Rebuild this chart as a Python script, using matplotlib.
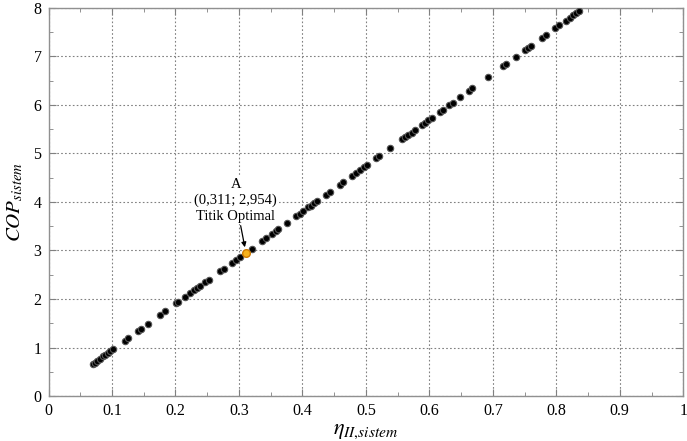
import numpy as np
import matplotlib
matplotlib.use("Agg")
import matplotlib.pyplot as plt

plt.rcParams['font.family'] = 'Liberation Serif'
plt.rcParams['mathtext.fontset'] = 'stix'

# data
eta = [0.070, 0.073, 0.076, 0.081, 0.086, 0.089, 0.094, 0.097, 0.102,
       0.120, 0.125, 0.141, 0.146, 0.157, 0.176, 0.184, 0.201, 0.204,
       0.215, 0.223, 0.229, 0.234, 0.239, 0.247, 0.253, 0.270, 0.276,
       0.289, 0.295, 0.302, 0.320, 0.336, 0.342, 0.352, 0.358, 0.362,
       0.376, 0.390, 0.396, 0.401, 0.409, 0.413, 0.418, 0.423, 0.437,
       0.443, 0.459, 0.464, 0.478, 0.484, 0.490, 0.497, 0.502, 0.516,
       0.520, 0.538, 0.557, 0.561, 0.566, 0.572, 0.577, 0.588, 0.593,
       0.598, 0.604, 0.617, 0.621, 0.631, 0.637, 0.648, 0.662, 0.667,
       0.692, 0.716, 0.720, 0.736, 0.750, 0.755, 0.760, 0.777, 0.783,
       0.798, 0.804, 0.815, 0.821, 0.826, 0.831, 0.836]
cop = [0.67, 0.69, 0.72, 0.77, 0.82, 0.85, 0.89, 0.92, 0.97,
       1.14, 1.19, 1.34, 1.39, 1.49, 1.67, 1.75, 1.91, 1.94,
       2.04, 2.12, 2.18, 2.22, 2.27, 2.35, 2.40, 2.57, 2.62,
       2.75, 2.80, 2.87, 3.04, 3.19, 3.25, 3.34, 3.40, 3.44,
       3.57, 3.71, 3.76, 3.81, 3.89, 3.92, 3.97, 4.02, 4.15,
       4.21, 4.36, 4.41, 4.54, 4.60, 4.66, 4.72, 4.77, 4.90,
       4.94, 5.11, 5.29, 5.33, 5.38, 5.43, 5.48, 5.59, 5.63,
       5.68, 5.74, 5.86, 5.90, 5.99, 6.05, 6.16, 6.29, 6.34,
       6.57, 6.80, 6.84, 6.99, 7.13, 7.17, 7.22, 7.38, 7.44,
       7.58, 7.64, 7.74, 7.80, 7.85, 7.89, 7.94]
opt_eta, opt_cop = 0.311, 2.954

fig = plt.figure(figsize=(6.87, 4.41), dpi=100)
ax = fig.add_axes([0.0706, 0.102, 0.924, 0.880])

ax.plot(eta, cop, 'o', ms=4.6, mfc='black', mec='#555555', mew=0.8, zorder=3)
ax.plot([opt_eta], [opt_cop], 'o', ms=5.5, mfc='#f7b21c', mec='#d07a00', mew=1.0, zorder=4)

ax.annotate("A\n(0,311; 2,954)\nTitik Optimal",
            xy=(opt_eta, opt_cop), xytext=(0.295, 3.57),
            ha='center', va='bottom', fontsize=10.5, linespacing=1.25,
            bbox=dict(boxstyle='square,pad=0.1', fc='white', ec='none'),
            arrowprops=dict(arrowstyle='-|>', color='black', lw=0.9,
                            mutation_scale=7, shrinkA=1, shrinkB=4))

ax.set_xlim(0, 1)
ax.set_ylim(0, 8)
ax.set_xticks(np.arange(0, 1.01, 0.1))
ax.set_xticklabels(['0', '0.1', '0.2', '0.3', '0.4', '0.5', '0.6', '0.7', '0.8', '0.9', '1'])
ax.set_yticks(np.arange(0, 8.1, 1))
ax.set_xticks(np.arange(0.05, 1, 0.1), minor=True)
ax.set_yticks(np.arange(0.5, 8, 1), minor=True)

ax.grid(True, which='major', linestyle=(0, (1.5, 2)), color='#808080', lw=0.8)
ax.tick_params(which='both', direction='in', top=True, right=True,
               color='#808080', labelsize=11.5, pad=5)
ax.tick_params(which='major', length=5)
ax.tick_params(which='minor', length=3)
for s in ax.spines.values():
    s.set_color('#909090')
    s.set_linewidth(1.0)

ax.set_xlabel(r'$\eta_{II{,}sistem}$', fontsize=16, labelpad=2)
ax.set_ylabel(r'$COP_{sistem}$', fontsize=15, labelpad=6)

fig.savefig('out.png', dpi=100)
